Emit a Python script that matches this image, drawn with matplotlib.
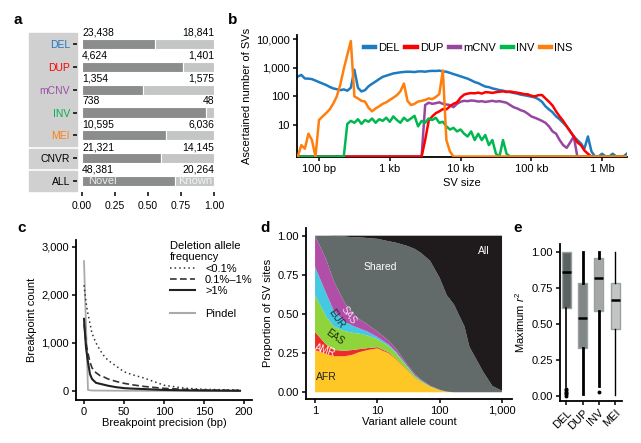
import numpy as np
import matplotlib
matplotlib.use('Agg')
import matplotlib.pyplot as plt
from matplotlib.patches import Rectangle
from matplotlib.lines import Line2D

plt.rcParams['font.family'] = ['Liberation Sans', 'DejaVu Sans']
plt.rcParams['mathtext.fontset'] = 'custom'
plt.rcParams['mathtext.rm'] = 'Liberation Sans'
plt.rcParams['mathtext.it'] = 'Liberation Sans:italic'

# ---------------- data ----------------
# panel a
a_categories = ['DEL', 'DUP', 'mCNV', 'INV', 'MEI', 'CNVR', 'ALL']
a_novel = [23438, 4624, 1354, 738, 10595, 21321, 48381]
a_known = [18841, 1401, 1575, 48, 6036, 14145, 20264]
a_label_colors = ['#1f78c1', '#ff0000', '#9b4fa5', '#00b050', '#ff7f0e', 'black', 'black']
a_ticks = [0, 0.25, 0.5, 0.75, 1.0]
a_ticklabels = ['0.00', '0.25', '0.50', '0.75', '1.00']

# panel b (log10 size bins)
b_log_size = np.round(np.arange(1.70, 6.351, 0.05), 2)
b_del = [490, 560, 420, 415, 400, 355,
         315, 280, 250, 215, 190, 178, 165, 175, 158, 200, 850, 200, 148, 165, 225, 275, 330, 400, 480, 525,
         575, 630, 660, 690, 710, 725, 720, 705, 740, 745, 725, 760, 775, 770, 790, 740, 725, 660, 600, 550,
         500, 455, 415, 365, 315, 290, 250, 220, 210, 190, 178, 165, 158, 148, 140, 132, 125, 115, 110, 104,
         98, 92, 80, 65, 45, 35, 28, 20, 16, 12, 9, 6, 4, 3, 2.3, 1.5, 4, 1.2, 0, 0,
         1, 0, 0, 1, 0, 0, 0, 1]
b_dup = [0] * 6 + [0] * 20 + \
        [0] * 10 + [3, 14, 20, 26, 30, 36, 35, 45, 55, 62] + \
        [90, 115, 125, 130, 128, 135, 125, 140, 138, 132, 140, 145, 150, 142, 148, 140, 135, 128, 120, 118] + \
        [105, 100, 110, 112, 85, 65, 48, 30, 20, 14, 9, 6, 4, 2.5, 2, 1.3, 1, 0, 0, 0] + [0] * 8
b_mcnv = [0] * 6 + [0] * 20 + \
         [0] * 10 + [50, 60, 55, 58, 62, 55, 52, 50, 42, 55] + \
         [65, 70, 68, 72, 70, 66, 68, 64, 67, 70, 66, 68, 64, 60, 50, 42, 38, 33, 30, 25] + \
         [20, 18, 16, 14, 12, 9, 6, 5, 3, 2, 1.6, 2.5, 4, 0, 0, 0, 0, 0, 0, 0] + [0] * 8
b_inv = [0] * 6 + \
        [0] * 8 + [11, 14, 12, 16, 11, 15, 13, 17, 12, 16, 14, 18] + \
        [13, 20, 15, 12, 18, 14, 17, 21, 9, 14, 12, 17, 15, 18, 12, 13, 9, 7, 8, 6] + \
        [7, 5, 4, 6, 3, 5, 3, 4.5, 2, 3, 1, 0, 3, 1, 0, 0, 0, 0, 0, 0] + [0] * 20 + [0] * 8
b_ins = [0, 2, 1.5, 5, 3, 0,
         15, 20, 26, 35, 55, 98, 250, 900, 2800, 8500, 100, 85, 70, 66, 40, 30, 38, 45, 55, 62,
         75, 90, 110, 150, 280, 70, 50, 55, 66, 70, 75, 85, 80, 95, 120, 800, 3, 1.2, 0, 0] + \
        [0] * 20 + [0] * 20 + [0] * 8
b_series = ['DEL', 'DUP', 'mCNV', 'INV', 'INS']
b_colors = ['#1f7bbf', '#ff0000', '#9747a0', '#00b84f', '#ff7f0e']
b_xticks = [100, 1e3, 1e4, 1e5, 1e6]
b_xticklabels = ['100 bp', '1 kb', '10 kb', '100 kb', '1 Mb']
b_yticks = [10, 100, 1000, 10000]
b_yticklabels = ['10', '100', '1,000', '10,000']

# panel c
c_x = [0, 2.5, 5, 7.5, 10, 15, 20, 25, 30, 40, 50, 60, 75, 100, 125, 150, 175, 195]
c_low = [2200, 1850, 1600, 1400, 1200, 1000, 850, 730, 640, 520, 400, 340, 270, 120, 60, 35, 25, 20]
c_mid = [1400, 1000, 780, 600, 480, 380, 320, 290, 250, 200, 160, 130, 95, 55, 35, 20, 15, 10]
c_high = [1500, 900, 600, 350, 250, 170, 150, 130, 110, 80, 60, 50, 40, 22, 15, 10, 7, 5]
c_pindel_x = [0, 5, 10, 50, 100, 150, 195]
c_pindel = [2700, 20, 10, 5, 3, 2, 1]

# panel d
d_x = [1, 1.5, 2, 3, 4, 5, 7, 10, 15, 20, 30, 40, 50, 70, 100, 130, 170, 200, 250, 300, 400, 500, 700, 1000]
d_afr = [0.27, 0.245, 0.23, 0.23, 0.24, 0.255, 0.27, 0.28, 0.25, 0.21, 0.14, 0.09, 0.065, 0.035, 0.012, 0.004,
         0, 0, 0, 0, 0, 0, 0, 0]
d_amr = [0.115, 0.06, 0.04, 0.035, 0.03, 0.02, 0.012, 0.008, 0.006, 0.004, 0.003, 0.002, 0.001, 0, 0, 0,
         0, 0, 0, 0, 0, 0, 0, 0]
d_eas = [0.235, 0.18, 0.15, 0.125, 0.11, 0.10, 0.08, 0.05, 0.04, 0.035, 0.02, 0.012, 0.008, 0.004, 0.002, 0,
         0, 0, 0, 0, 0, 0, 0, 0]
d_eur = [0.18, 0.15, 0.10, 0.06, 0.045, 0.035, 0.025, 0.015, 0.01, 0.008, 0.005, 0.003, 0.002, 0, 0, 0,
         0, 0, 0, 0, 0, 0, 0, 0]
d_sas = [0.20, 0.215, 0.19, 0.12, 0.08, 0.06, 0.045, 0.035, 0.025, 0.02, 0.01, 0.008, 0.005, 0.003, 0.002, 0,
         0, 0, 0, 0, 0, 0, 0, 0]
d_all = [0, 0, 0.002, 0.005, 0.01, 0.01, 0.015, 0.02, 0.035, 0.045, 0.065, 0.085, 0.11, 0.16, 0.27, 0.38,
         0.44, 0.50, 0.58, 0.71, 0.80, 0.87, 0.96, 0.99]
d_colors = ['#ffc726', '#ee2a2a', '#8ed43a', '#45c8e2', '#b04ea8', '#636a6a', '#1f1b1c']

# panel e
e_categories = ['DEL', 'DUP', 'INV', 'MEI']
e_q1 = [0.61, 0.33, 0.59, 0.465]
e_med = [0.86, 0.54, 0.82, 0.665]
e_q3 = [0.995, 0.785, 0.955, 0.785]
e_whislo = [0.06, 0.015, 0.07, 0.005]
e_whishi = [1.0, 1.0, 1.0, 1.0]
e_fliers = [[0.0, 0.01, 0.02, 0.03, 0.04, 0.05], [], [0.025], []]
e_colors = ['#5b6262', '#818787', '#a6a8a8', '#c3c5c5']

# ---------------- figure ----------------
W, H = 641, 443
fig = plt.figure(figsize=(6.41, 4.43), dpi=100)


def ax_px(l, t, r, b):
    return fig.add_axes([l / W, 1 - b / H, (r - l) / W, (b - t) / H])


TFS = 8
LFS = 8

# ---- panel a ----
axa = ax_px(77, 30, 216, 192)
for (t0, t1) in [(33, 146), (149, 168), (171, 191)]:
    fig.add_artist(Rectangle((29 / W, 1 - t1 / H), 48 / W, (t1 - t0) / H,
                             transform=fig.transFigure, color='#d0d0d0', zorder=-1))
ypos = np.arange(len(a_categories))
frac = np.array(a_novel) / (np.array(a_novel) + np.array(a_known))
axa.barh(ypos, frac, height=0.44, color='#8b8d8d', edgecolor='white', linewidth=0.8, zorder=2)
axa.barh(ypos, 1 - frac, left=frac, height=0.44, color='#c4c6c6', edgecolor='white', linewidth=0.8, zorder=2)
for i in range(len(a_categories)):
    axa.text(0, i - 0.27, f'{a_novel[i]:,}', ha='left', va='bottom', fontsize=7.5)
    axa.text(1, i - 0.27, f'{a_known[i]:,}', ha='right', va='bottom', fontsize=7.5)
axa.text(0.045, 6.02, 'Novel', ha='left', va='center', fontsize=8, color='#ececec', zorder=5)
axa.text(0.99, 6.02, 'Known', ha='right', va='center', fontsize=8, color='#f2f2f2', zorder=5)
axa.set_xlim(-0.0379, 1.0152)
axa.set_ylim(6.48, -0.613)
axa.set_yticks(ypos)
axa.set_yticklabels(a_categories, fontsize=7.5)
for lab, c in zip(axa.get_yticklabels(), a_label_colors):
    lab.set_color(c)
axa.set_xticks(a_ticks)
axa.set_xticklabels(a_ticklabels, fontsize=7.5)
for s in axa.spines.values():
    s.set_visible(False)
axa.tick_params(length=3, width=1.1, pad=2)
axa.tick_params(axis='x', pad=3.5)
axa.patch.set_visible(False)

# ---- panel b ----
axb = ax_px(296.7, 35, 627, 157)
floor = 0.8
b_size = 10 ** b_log_size
zorders = [2, 4, 3, 5, 6]
for name, vals, col, z in zip(b_series, [b_del, b_dup, b_mcnv, b_inv, b_ins], b_colors, zorders):
    v = np.maximum(np.array(vals, dtype=float), floor)
    axb.plot(b_size, v, color=col, lw=1.8, label=name, zorder=z, solid_joinstyle='round')
axb.set_xscale('log')
axb.set_yscale('log')
axb.set_xlim(48.4, 2.25e6)
axb.set_ylim(0.77, 13800)
axb.set_xticks(b_xticks)
axb.set_xticklabels(b_xticklabels, fontsize=TFS)
axb.set_yticks(b_yticks)
axb.set_yticklabels(b_yticklabels, fontsize=TFS)
axb.minorticks_off()
axb.set_xlabel('SV size', fontsize=LFS, labelpad=3)
axb.set_ylabel('Ascertained number of SVs', fontsize=LFS, labelpad=3)
axb.legend(loc='upper left', bbox_to_anchor=(0.18, 1.0), ncol=5, frameon=False, fontsize=8,
           handlelength=1.0, handletextpad=0.3, columnspacing=0.5, borderpad=0.2)
for h in axb.get_legend().get_lines():
    h.set_linewidth(3.2)

# ---- panel c ----
axc = ax_px(76, 240, 252, 400)
axc.plot(c_pindel_x, c_pindel, color='#aaaaaa', lw=1.3, label='Pindel', zorder=2)
axc.plot(c_x, c_low, color='#333333', lw=1.1, ls=(0, (1, 2)), label='<0.1%', zorder=3)
axc.plot(c_x, c_mid, color='#333333', lw=1.2, ls=(0, (4, 2)), label='0.1%\u20131%', zorder=3)
axc.plot(c_x, c_high, color='#222222', lw=1.5, label='>1%', zorder=3)
axc.set_xlim(-10, 210)
axc.set_ylim(-187, 3139)
axc.set_xticks([0, 50, 100, 150, 200])
axc.set_xticklabels(['0', '50', '100', '150', '200'], fontsize=LFS)
axc.set_yticks([0, 1000, 2000, 3000])
axc.set_yticklabels(['0', '1,000', '2,000', '3,000'], fontsize=LFS)
axc.set_xlabel('Breakpoint precision (bp)', fontsize=LFS, labelpad=1)
axc.set_ylabel('Breakpoint count', fontsize=LFS, labelpad=3)
hs = [Line2D([], [], color='#333333', lw=1.1, ls=(0, (1, 2))),
      Line2D([], [], color='#333333', lw=1.2, ls=(0, (4, 2))),
      Line2D([], [], color='#222222', lw=1.5),
      Line2D([], [], color='none'),
      Line2D([], [], color='#aaaaaa', lw=1.5)]
leg = axc.legend(hs, ['<0.1%', '0.1%\u20131%', '>1%', ' ', 'Pindel'], title='Deletion allele\nfrequency',
                 loc='upper left', bbox_to_anchor=(0.5, 1.03), frameon=False, fontsize=LFS,
                 title_fontsize=LFS, handlelength=2.3, handletextpad=0.9, labelspacing=0.12,
                 borderpad=0, alignment='left')

# ---- panel d ----
axd = ax_px(306, 227.7, 511.7, 399)
d_shared = 1 - (np.array(d_afr) + np.array(d_amr) + np.array(d_eas) + np.array(d_eur)
                + np.array(d_sas) + np.array(d_all))
d_shared = np.maximum(d_shared, 0)
axd.stackplot(d_x, d_afr, d_amr, d_eas, d_eur, d_sas, d_shared, d_all, colors=d_colors, lw=0)
axd.set_xscale('log')
axd.set_xlim(0.716, 1429)
axd.set_ylim(-0.043, 1.051)
axd.set_xticks([1, 10, 100, 1000])
axd.set_xticklabels(['1', '10', '100', '1,000'], fontsize=LFS)
axd.minorticks_off()
axd.set_yticks([0, 0.25, 0.5, 0.75, 1.0])
axd.set_yticklabels(['0.00', '0.25', '0.50', '0.75', '1.00'], fontsize=LFS)
axd.set_xlabel('Variant allele count', fontsize=LFS, labelpad=1)
axd.set_ylabel('Proportion of SV sites', fontsize=LFS, labelpad=3)
axd.text(11, 0.80, 'Shared', color='white', fontsize=7.5, ha='center', va='center')
axd.text(516, 0.90, 'All', color='white', fontsize=7.5, ha='center', va='center')
axd.text(3.42, 0.49, 'SAS', color='#f4d8ee', fontsize=7, ha='center', va='center', rotation=-55)
axd.text(2.23, 0.47, 'EUR', color='#13303c', fontsize=7, ha='center', va='center', rotation=-55)
axd.text(2.09, 0.355, 'EAS', color='#1f2a10', fontsize=7, ha='center', va='center', rotation=-35)
axd.text(1.45, 0.265, 'AMR', color='white', fontsize=7, ha='center', va='center', rotation=-18)
axd.text(1.54, 0.10, 'AFR', color='#222222', fontsize=7.5, ha='center', va='center')

# ---- panel e ----
axe = ax_px(560, 244.3, 622, 400.7)
stats = []
for i in range(4):
    stats.append(dict(med=e_med[i], q1=e_q1[i], q3=e_q3[i], whislo=e_whislo[i],
                      whishi=e_whishi[i], fliers=e_fliers[i]))
bp = axe.bxp(stats, positions=[1, 2, 3, 4], widths=0.55, patch_artist=True, showcaps=False,
             medianprops=dict(color='black', lw=1.8),
             whiskerprops=dict(color='black', lw=2),
             flierprops=dict(marker='o', markersize=1.8, markerfacecolor='black',
                             markeredgecolor='black'))
for patch, col in zip(bp['boxes'], e_colors):
    patch.set_facecolor(col)
    patch.set_edgecolor('#9aa0a0')
    patch.set_linewidth(1)
for k, lw in zip(range(8), [1.2, 1.2, 2, 2, 2, 2, 1.0, 1.0]):
    bp['whiskers'][k].set_linewidth(lw)
axe.set_xlim(0.62, 4.42)
axe.set_ylim(-0.033, 1.051)
axe.set_xticks([1, 2, 3, 4])
axe.set_xticklabels(e_categories, fontsize=LFS, rotation=45, ha='right', rotation_mode='anchor')
axe.set_yticks([0, 0.25, 0.5, 0.75, 1.0])
axe.set_yticklabels(['0.00', '0.25', '0.50', '0.75', '1.00'], fontsize=LFS)
axe.set_ylabel('Maximum $r^2$', fontsize=LFS, labelpad=3)

for ax in [axb, axc, axd, axe]:
    for s in ['top', 'right']:
        ax.spines[s].set_visible(False)
    for s in ['left', 'bottom']:
        ax.spines[s].set_linewidth(1.3)
    ax.tick_params(length=3, width=1.1, pad=2)

# panel letters
for lab, x, y in [('a', 18, 20), ('b', 233, 20), ('c', 22, 228), ('d', 265, 228), ('e', 518, 228)]:
    fig.text(x / W, 1 - y / H, lab, fontsize=11, fontweight='bold', ha='center', va='center')

fig.savefig('out.png', dpi=100)
